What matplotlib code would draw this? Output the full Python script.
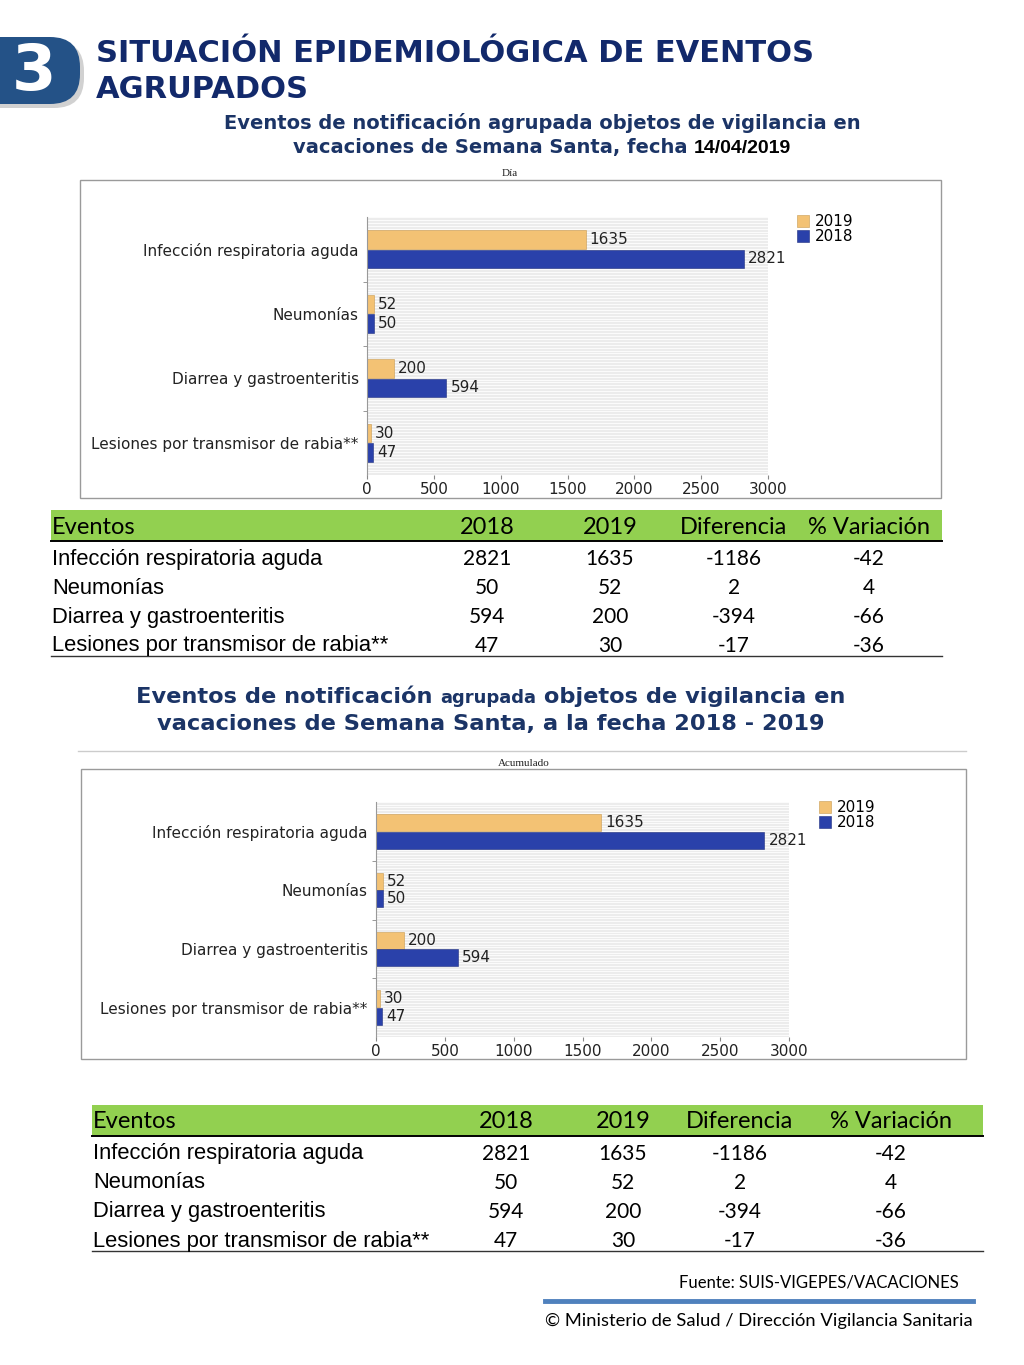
import matplotlib
matplotlib.use("Agg")
import matplotlib.pyplot as plt
import numpy as np
from matplotlib.patches import FancyBboxPatch, Rectangle
from matplotlib.lines import Line2D

# datos
eventos = ['Infección respiratoria aguda', 'Neumonías',
           'Diarrea y gastroenteritis', 'Lesiones por transmisor de rabia**']
casos_2018 = [2821, 50, 594, 47]
casos_2019 = [1635, 52, 200, 30]
diferencia = [-1186, 2, -394, -17]
variacion = [-42, 4, -66, -36]
columnas = ['Eventos', '2018', '2019', 'Diferencia', '% Variación']
x_ticks = [0, 500, 1000, 1500, 2000, 2500, 3000]

W, H = 1024, 1365
NAVY = '#12296B'
SUB = '#1B3466'
ORANGE = '#F3C274'
BLUE = '#2A41AA'
GREEN = '#92D050'

fig = plt.figure(figsize=(W / 100, H / 100), dpi=100)

# fondo en coordenadas de pixel
bg = fig.add_axes([0, 0, 1, 1], zorder=0)
bg.set_xlim(0, W)
bg.set_ylim(H, 0)
bg.axis('off')


def px_axes(l, t, r, b):
    return fig.add_axes([l / W, 1 - b / H, (r - l) / W, (b - t) / H], zorder=2)


def runs(cx, y, parts):
    # escribe trozos de texto seguidos, centrados en cx
    rend = fig.canvas.get_renderer()
    objs = [bg.text(0, y, s, ha='left', va='baseline', **kw) for s, kw in parts]
    ws = [o.get_window_extent(rend).width for o in objs]
    x = cx - sum(ws) / 2
    for o, w in zip(objs, ws):
        o.set_x(x)
        x += w


# encabezado
bg.add_patch(FancyBboxPatch((-40, 41), 124, 67, boxstyle='round,pad=0,rounding_size=30',
                            fc='#999999', ec='none', alpha=0.45))
bg.add_patch(FancyBboxPatch((-40, 37), 120, 67, boxstyle='round,pad=0,rounding_size=30',
                            fc='#245287', ec='none'))
bg.text(34, 72, '3', color='white', fontsize=46, fontweight='heavy', ha='center', va='center')
bg.text(96, 54, 'SITUACIÓN EPIDEMIOLÓGICA DE EVENTOS', color=NAVY, fontsize=22,
        fontweight='heavy', va='center')
bg.text(96, 90, 'AGRUPADOS', color=NAVY, fontsize=22, fontweight='heavy', va='center')

s1 = dict(color=SUB, fontsize=14, fontweight='bold')
runs(542, 129, [('Eventos de notificación agrupada objetos de vigilancia en', s1)])
runs(542, 153, [('vacaciones de Semana Santa, fecha ', s1),
                ('14/04/2019', dict(color='black', fontsize=14, fontweight='bold',
                                    family='Liberation Sans'))])

s2 = dict(color=SUB, fontsize=16.2, fontweight='bold')
runs(491, 703, [('Eventos de notificación ', s2),
                ('agrupada', dict(color=SUB, fontsize=13, fontweight='bold')),
                (' objetos de vigilancia en', s2)])
runs(491, 730, [('vacaciones de Semana Santa, a la fecha 2018 - 2019', s2)])

FS = 11


def chart(box, ax_px, title, title_xy, leg_xy):
    l, t, r, b = box
    bg.add_patch(Rectangle((l, t), r - l, b - t, fc='white', ec='#9A9A9A', lw=1))
    bg.text(title_xy[0], title_xy[1], title, ha='center', va='center',
            fontsize=8, family='Liberation Serif', color='#222222')
    ax = px_axes(*ax_px)
    y = np.arange(len(eventos))
    ax.set_facecolor('#ECECEC')
    ax.hlines(np.arange(-0.5, 3.5, 0.045), 0, 3000, color='white', lw=0.6, zorder=0)
    b19 = ax.barh(y - 0.15, casos_2019, height=0.29, color=ORANGE, ec='#C89A50', lw=0.4,
                  label='2019', zorder=2)
    b18 = ax.barh(y + 0.15, casos_2018, height=0.29, color=BLUE, ec='#1F2F80', lw=0.4,
                  label='2018', zorder=2)
    ax.bar_label(b19, padding=3, fontsize=FS, color='#222222')
    ax.bar_label(b18, padding=3, fontsize=FS, color='#222222')
    ax.set_xlim(0, 3000)
    ax.set_ylim(3.5, -0.5)
    ax.set_xticks(x_ticks)
    ax.set_yticks(y)
    ax.set_yticklabels(eventos)
    ax.set_yticks([0.5, 1.5, 2.5], minor=True)
    ax.tick_params(axis='y', which='major', length=0, pad=6, labelsize=FS, labelcolor='#222222')
    ax.tick_params(axis='y', which='minor', length=3, color='#888888')
    ax.tick_params(axis='x', length=3, color='#888888', labelsize=FS, labelcolor='#222222', pad=2)
    for s in ['top', 'right', 'bottom']:
        ax.spines[s].set_visible(False)
    ax.spines['left'].set_color('#999999')
    ax.legend(loc='upper left', bbox_to_anchor=(leg_xy[0] / W, 1 - leg_xy[1] / H),
              bbox_transform=fig.transFigure, frameon=False, fontsize=FS,
              handlelength=0.8, handleheight=0.8, handletextpad=0.4, labelspacing=0.0,
              borderpad=0, borderaxespad=0)
    return ax


chart((80, 180, 941, 498), (367, 217, 768, 475), 'Día', (510, 173), (797, 214))
bg.add_line(Line2D([78, 966], [751, 751], color='#CCCCCC', lw=1))
chart((81, 769, 966, 1059), (376, 802, 789, 1037), 'Acumulado', (524, 763), (819, 800))


def tabla(x0, x1, top, col_x, row_h=29):
    bg.add_patch(Rectangle((x0, top), x1 - x0, 31, fc=GREEN, ec='none'))
    bg.text(x0 + 1, top + 17, columnas[0], fontsize=17, family='Lato', va='center')
    for cx, name in zip(col_x, columnas[1:]):
        bg.text(cx, top + 17, name, fontsize=17, family='Lato', ha='center', va='center')
    bg.add_line(Line2D([x0, x1], [top + 31, top + 31], color='black', lw=1.4))
    for i, ev in enumerate(eventos):
        yy = top + 49 + i * row_h
        bg.text(x0 + 1, yy, ev, fontsize=15.8, family='Liberation Sans', va='center')
        vals = [casos_2018[i], casos_2019[i], diferencia[i], variacion[i]]
        for cx, v in zip(col_x, vals):
            bg.text(cx, yy, str(v), fontsize=15, family='Lato', ha='center', va='center')
    bg.add_line(Line2D([x0, x1], [top + 146, top + 146], color='#333333', lw=1))


tabla(51, 942, 510, [487, 610, 734, 869])
tabla(92, 983, 1105, [506, 623, 740, 891])

# pie
bg.text(959, 1283, 'Fuente: SUIS-VIGEPES/VACACIONES', fontsize=12, family='Lato',
        ha='right', va='center')
bg.add_line(Line2D([545, 973], [1301, 1301], color='#4F81BD', lw=3.5))
bg.text(973, 1321, '© Ministerio de Salud / Dirección Vigilancia Sanitaria', fontsize=13.2,
        family='Lato', ha='right', va='center')

fig.savefig('out.png', dpi=100)
